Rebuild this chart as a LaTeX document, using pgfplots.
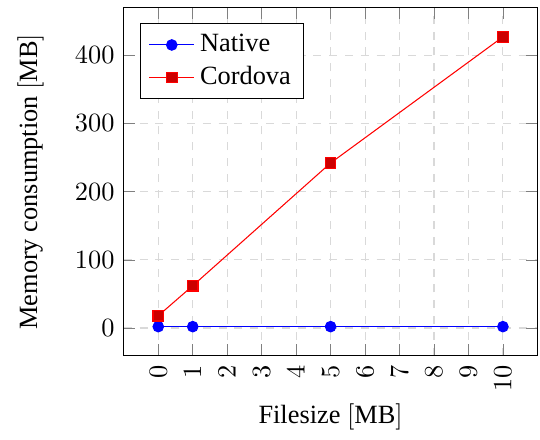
\documentclass[border=0pt]{standalone}
\usepackage{fontspec}
\setmainfont{Liberation Serif}
\usepackage{pgfplots}
\pgfplotsset{compat=1.18}

\begin{document}
\begin{tikzpicture}
\begin{axis}[
    scale only axis,
    width=157pt,
    height=132pt,
    xlabel={Filesize $[$MB$]$},
    ylabel={Memory consumption $[$MB$]$},
    xtick={0,1,...,10},
    ytick={0,100,...,400},
    xticklabel style={rotate=90, anchor=east},
    xlabel style={yshift=2pt},
    ylabel style={yshift=5pt},
    grid=major,
    major grid style={dashed, gray!30},
    legend style={at={(0.04,0.956)}, anchor=north west},
    legend cell align=left,
]
\addplot[blue, mark=*, mark options={fill=blue}] coordinates {(0,2) (1,2) (5,2) (10,2)};
\addplot[red, mark=square*, mark options={fill=red!80!black}] coordinates {(0,18) (1,62) (5,242) (10,427)};
\legend{Native, Cordova}
\end{axis}
\path (current axis.north east) ++(1pt,3pt);
\path (current axis.west) ++(-47pt,0pt);
\end{tikzpicture}
\end{document}
